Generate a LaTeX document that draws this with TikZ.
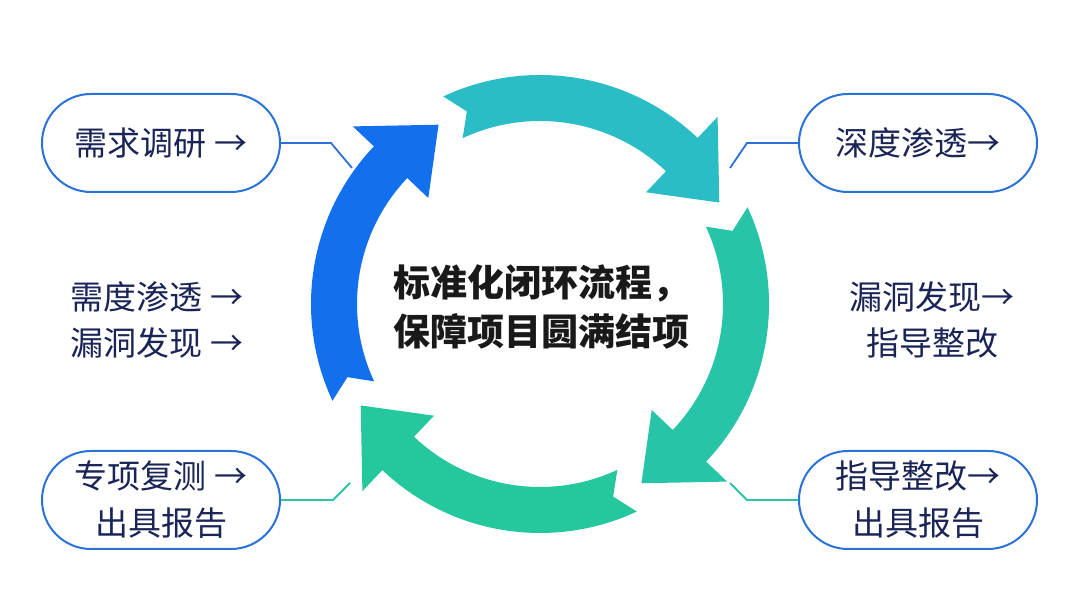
\documentclass[tikz,border=0pt]{standalone}
\usepackage{fontspec}
\newfontfamily\cjk{Noto Sans CJK SC}
\usepackage{xcolor}
\usetikzlibrary{shapes,positioning,calc}
\definecolor{loopblue}{HTML}{126FEE}
\definecolor{loopteal}{HTML}{2ABDC6}
\definecolor{loopaqua}{HTML}{27C4A7}
\definecolor{loopgreen}{HTML}{25C79C}
\definecolor{boxline}{HTML}{2A72D8}
\definecolor{linkgreen}{HTML}{2CC3A8}
\definecolor{inknavy}{HTML}{1A2456}
\tikzset{
  stagebox/.style={
    rounded rectangle, draw=boxline, fill=white, line width=2pt,
    minimum width=238pt, minimum height=98pt, inner sep=0pt,
    font=\cjk\fontsize{33pt}{47pt}\selectfont, text=inknavy, align=center
  },
  stagenote/.style={font=\cjk\fontsize{33pt}{46pt}\selectfont,text=inknavy,align=center},
  hubtext/.style={font=\cjk\bfseries\fontsize{37pt}{49pt}\selectfont,text=black!90,align=center},
  linkblue/.style={draw=boxline,line width=1.8pt},
  linkteal/.style={draw=linkgreen,line width=1.8pt}
}

\begin{document}
\begin{tikzpicture}[x=1pt,y=1pt]
  \useasboundingbox[fill=white] (0,0) rectangle (1080,607);
  \coordinate (ring) at (540,303);
  % four arrows of the loop
  \foreach \t/\c in {205/loopblue,115/loopteal,25/loopaqua,-65/loopgreen}{
    \fill[\c] ($(ring)+(\t:229pt)$) arc[start angle=\t, end angle=\t-68.5, radius=229pt]
      -- ($(ring)+({\t-68.5}:258pt)$) -- ($(ring)+({\t-85.5}:206pt)$)
      -- ($(ring)+({\t-68.5}:154pt)$) -- ($(ring)+({\t-68.5}:183pt)$)
      arc[start angle=\t-68.5, end angle=\t, radius=183pt]
      -- ($(ring)+({\t-4.2}:206pt)$) -- cycle;
  }
  \node[hubtext] (hub) at (541,300) {标准化闭环流程，\\保障项目圆满结项};

  \node[stagebox] (survey) at (161,464) {需求调研 →};
  \node[stagebox] (probe) at (918,464) {深度渗透→};
  \node[stagebox] (retest) at (161,107) {专项复测 →\\出具报告};
  \node[stagebox] (guide) at (918,107) {指导整改→\\出具报告};
  \node[stagenote] (leftnote) at (157,287) {需度渗透 →\\漏洞发现 →};
  \node[stagenote] (rightnote) at (932,287) {漏洞发现→\\指导整改};

  \coordinate (surveyend) at (352,439);
  \coordinate (probeend) at (730,439);
  \coordinate (retestend) at (350,124);
  \coordinate (guideend) at (730,124);
  \draw[linkblue] (survey.east) -- ++(50,0) -- (surveyend);
  \draw[linkblue] (probe.west) -- ++(-51,0) -- (probeend);
  \draw[linkteal] (retest.east) -- ++(52,0) -- (retestend);
  \draw[linkteal] (guide.west) -- ++(-51,0) -- (guideend);
\end{tikzpicture}
\end{document}
